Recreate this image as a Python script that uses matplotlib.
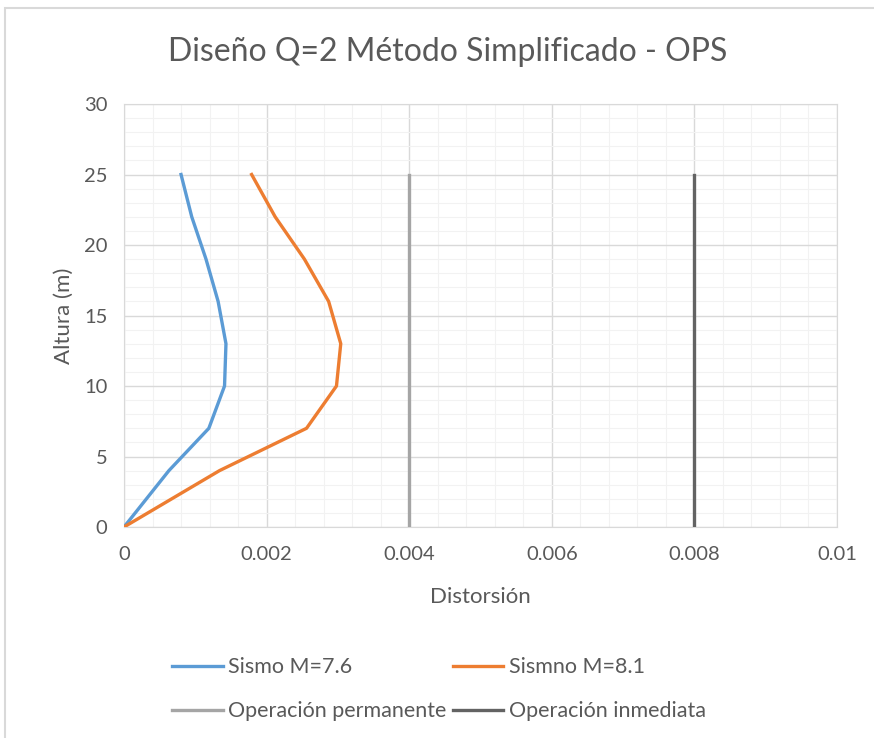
import matplotlib.pyplot as plt
from matplotlib.ticker import MultipleLocator
from matplotlib.patches import Rectangle

plt.rcParams['font.family'] = ['Lato', 'DejaVu Sans']

# Alturas de entrepiso y distorsiones
altura = [0, 4, 7, 10, 13, 16, 19, 22, 25]
sismo_76 = [0, 0.00063, 0.00119, 0.00141, 0.00143, 0.00132, 0.00115, 0.00095, 0.00080]
sismo_81 = [0, 0.00134, 0.00256, 0.00298, 0.00304, 0.00287, 0.00253, 0.00212, 0.00179]

# Limites de distorsion (lineas verticales)
lim_altura = [0, 25]
op_permanente = [0.004, 0.004]
op_inmediata = [0.008, 0.008]

txt = '#595959'

fig = plt.figure(figsize=(8.74, 7.38), dpi=100)
ax = fig.add_axes([124/874, 1-527/738, (837-124)/874, (527-104)/738])

# marco del grafico
fig.patches.append(Rectangle((5/874, -0.01), 1.0, 1 - 7.5/738 + 0.01, transform=fig.transFigure,
                             fill=False, edgecolor='#D9D9D9', lw=1.5))

l1, = ax.plot(sismo_76, altura, color='#5B9BD5', lw=2.4, label='Sismo M=7.6', zorder=4)
l2, = ax.plot(sismo_81, altura, color='#ED7D31', lw=2.4, label='Sismno M=8.1', zorder=4)
l3, = ax.plot(op_permanente, lim_altura, color='#A5A5A5', lw=2.4, label='Operación permanente', zorder=3)
l4, = ax.plot(op_inmediata, lim_altura, color='#636363', lw=2.4, label='Operación inmediata', zorder=3)

ax.set_xlim(0, 0.01)
ax.set_ylim(0, 30)
ax.xaxis.set_minor_locator(MultipleLocator(0.0004))
ax.yaxis.set_major_locator(MultipleLocator(5))
ax.yaxis.set_minor_locator(MultipleLocator(1))
ax.set_xticks([0, 0.002, 0.004, 0.006, 0.008, 0.01])
ax.set_xticklabels(['0', '0.002', '0.004', '0.006', '0.008', '0.01'])
ax.grid(which='major', color='#D9D9D9', lw=1.0)
ax.grid(which='minor', color='#F2F2F2', lw=0.8)
ax.set_axisbelow(True)
ax.tick_params(which='both', length=0, labelsize=14.5, colors=txt)
ax.tick_params(axis='x', pad=14)
ax.tick_params(axis='y', pad=12)
for s in ax.spines.values():
    s.set_color('#D9D9D9')

fig.text(448/874, 1-52/738, 'Diseño Q=2 Método Simplificado - OPS', fontsize=23, color=txt,
         ha='center', va='center')
ax.set_xlabel('Distorsión', fontsize=16, color=txt, labelpad=17)
ax.set_ylabel('Altura (m)', fontsize=16, color=txt, labelpad=7)

# leyenda por filas: columna 1 = azul/gris, columna 2 = naranja/gris oscuro
fig.legend([l1, l3, l2, l4], [l.get_label() for l in (l1, l3, l2, l4)],
           loc='upper left', bbox_to_anchor=(153/874, 1-638/738), ncol=2,
           frameon=False, fontsize=15.5, handlelength=2.35, handletextpad=0.25,
           columnspacing=0.27, labelspacing=1.1, labelcolor=txt)

fig.savefig('out.png', dpi=100)
